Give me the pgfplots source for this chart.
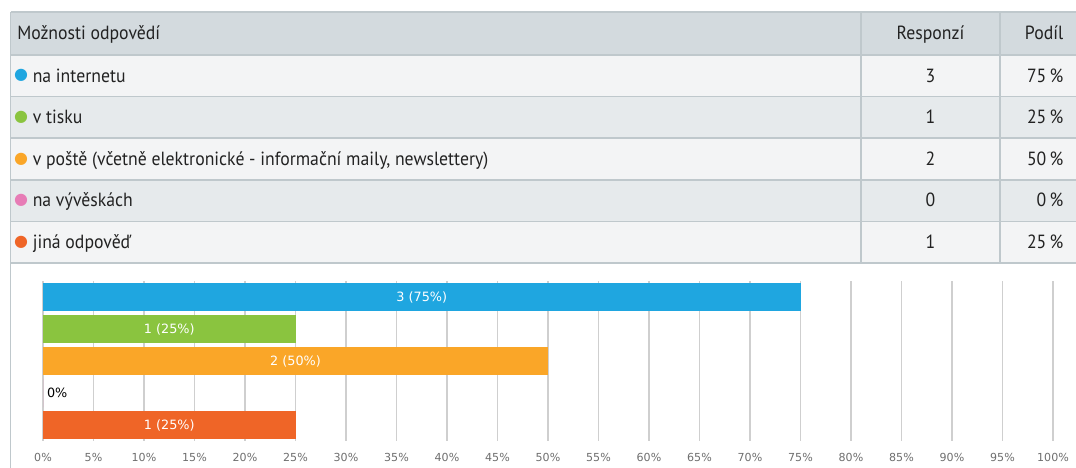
\documentclass[border=0pt]{standalone}
\usepackage{pgfplots}
\pgfplotsset{compat=1.18}
\usepackage{fontspec}
\setmainfont{PT Sans}
\newfontfamily\tablefont[FakeStretch=0.93]{PT Sans}
\newfontfamily\chartfont{DejaVu Sans}
\definecolor{hdr}{HTML}{D3DADE}
\definecolor{rowA}{HTML}{F3F4F5}
\definecolor{rowB}{HTML}{E6EAEC}
\definecolor{tline}{HTML}{BFC8CC}
\definecolor{ttext}{HTML}{222222}
\definecolor{gridc}{HTML}{CFCFCF}
\definecolor{tickc}{HTML}{6E6E6E}
\definecolor{cblue}{HTML}{1FA6E0}
\definecolor{cgreen}{HTML}{8AC43F}
\definecolor{corange}{HTML}{FAA628}
\definecolor{cpink}{HTML}{E77CB6}
\definecolor{cred}{HTML}{EF6527}
\begin{document}
\begin{tikzpicture}[x=0.75pt,y=0.75pt]
\path[use as bounding box] (0,0) rectangle (1076,468);
% table backgrounds
\fill[hdr]  (10.5,456) rectangle (1076,413);
\fill[rowA] (10.5,413) rectangle (1076,371.4);
\fill[rowB] (10.5,371.4) rectangle (1076,329.8);
\fill[rowA] (10.5,329.8) rectangle (1076,288.2);
\fill[rowB] (10.5,288.2) rectangle (1076,246.6);
\fill[rowA] (10.5,246.6) rectangle (1076,205);
\foreach \yy in {456,413,371.4,329.8,288.2,246.6,205}
  \draw[tline, line width=1.1pt] (10.5,\yy) -- (1076,\yy);
\draw[tline, line width=1.1pt] (10.5,456) -- (10.5,0);
\draw[tline, line width=1.1pt] (861,456) -- (861,205);
\draw[tline, line width=1.1pt] (1000,456) -- (1000,205);
% header text
\begin{scope}[every node/.style={inner sep=0pt, text=ttext, font=\tablefont\fontsize{14.3}{17}\selectfont}]
\node[anchor=base west] at (17,428.7) {Možnosti odpovědí};
\node[anchor=base] at (930.5,428.7) {Responzí};
\node[anchor=base east] at (1063.5,428.7) {Podíl};
% rows
\node[anchor=base west] at (32.5,385.9) {na internetu};
\node[anchor=base west] at (32.5,344.3) {v tisku};
\node[anchor=base west] at (32.5,302.7) {v poště (včetně elektronické - informační maily, newslettery)};
\node[anchor=base west] at (32.5,261.1) {na vývěskách};
\node[anchor=base west] at (32.5,219.5) {jiná odpověď};
\node[anchor=base] at (930.5,385.9) {3};
\node[anchor=base] at (930.5,344.3) {1};
\node[anchor=base] at (930.5,302.7) {2};
\node[anchor=base] at (930.5,261.1) {0};
\node[anchor=base] at (930.5,219.5) {1};
\node[anchor=base east] at (1063.5,385.9) {75\,\%};
\node[anchor=base east] at (1063.5,344.3) {25\,\%};
\node[anchor=base east] at (1063.5,302.7) {50\,\%};
\node[anchor=base east] at (1063.5,261.1) {0\,\%};
\node[anchor=base east] at (1063.5,219.5) {25\,\%};
\end{scope}
% legend dots
\begin{scope}[every node/.style={inner sep=0pt, font=\chartfont\fontsize{12}{14}\selectfont}]
\node[text=cblue]   at (21,392.2) {●};
\node[text=cgreen]  at (21,350.6) {●};
\node[text=corange] at (21,309.0) {●};
\node[text=cpink]   at (21,267.4) {●};
\node[text=cred]    at (21,225.8) {●};
\end{scope}
% chart
\begin{axis}[
  at={(32.25pt,20.25pt)}, anchor=south west,
  scale only axis, width=757.5pt, height=120pt,
  xmin=0, xmax=100, ymin=0.5, ymax=5.5, y dir=reverse,
  ytick=\empty,
  xtick={0,5,...,100},
  xticklabel={\pgfmathprintnumber{\tick}\%},
  /pgf/number format/assume math mode=true,
  xmajorgrids,
  grid style={color=gridc, line width=0.9pt},
  axis line style={draw=none},
  major tick length=0pt,
  tick label style={font=\chartfont\fontsize{8.3}{10}\selectfont, text=tickc},
  xticklabel style={yshift=-5.5pt},
  xbar, bar width=21.4pt,
  clip=false,
]
\addplot[fill=cblue, draw=none, bar shift=0pt] coordinates {(75,1)};
\addplot[fill=cgreen, draw=none, bar shift=0pt] coordinates {(25,2)};
\addplot[fill=corange, draw=none, bar shift=0pt] coordinates {(50,3)};
\addplot[fill=cpink, draw=none, bar shift=0pt] coordinates {(0,4)};
\addplot[fill=cred, draw=none, bar shift=0pt] coordinates {(25,5)};
\begin{scope}[every node/.style={font=\chartfont\fontsize{9.6}{11}\selectfont}]
\node[text=white] at (axis cs:37.5,1) {3 (75\%)};
\node[text=white] at (axis cs:12.5,2) {1 (25\%)};
\node[text=white] at (axis cs:25,3) {2 (50\%)};
\node[text=black, anchor=west, inner sep=0pt, xshift=2.8pt] at (axis cs:0,4) {0\%};
\node[text=white] at (axis cs:12.5,5) {1 (25\%)};
\end{scope}
\end{axis}
\end{tikzpicture}
\end{document}
